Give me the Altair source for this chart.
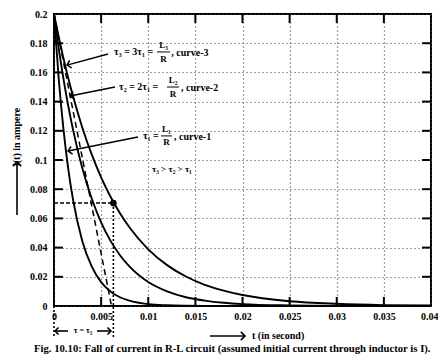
import altair as alt
import pandas as pd

# ---- data ----
t_values = [0, 0.0005, 0.001, 0.0015, 0.002, 0.003, 0.004, 0.005, 0.006, 0.007, 0.008,
            0.01, 0.012, 0.014, 0.016, 0.018, 0.02, 0.025, 0.03, 0.035, 0.04]
curve1 = [0.2, 0.1558, 0.1213, 0.0945, 0.0736, 0.0446, 0.0271, 0.0164, 0.0100, 0.0060, 0.0037,
          0.0013, 0.0005, 0.0002, 0.0001, 0, 0, 0, 0, 0, 0]
curve2 = [0.2, 0.1765, 0.1558, 0.1375, 0.1213, 0.0945, 0.0736, 0.0573, 0.0446, 0.0348, 0.0271,
          0.0164, 0.0100, 0.0060, 0.0037, 0.0022, 0.0013, 0.0004, 0.0001, 0, 0]
curve3 = [0.2, 0.1843, 0.1698, 0.1564, 0.1441, 0.1223, 0.1038, 0.0881, 0.0748, 0.0635, 0.0539,
          0.0388, 0.0280, 0.0202, 0.0145, 0.0105, 0.0075, 0.0033, 0.0015, 0.0006, 0.0003]
curve_names = ["curve-1", "curve-2", "curve-3"]

tangent_t = [0, 0.0061]
tangent_i = [0.2, 0]
tau3 = 0.0063
i_at_tau3 = 0.0705

x_ticks = [0, 0.005, 0.01, 0.015, 0.02, 0.025, 0.03, 0.035, 0.04]
y_ticks = [0, 0.02, 0.04, 0.06, 0.08, 0.1, 0.12, 0.14, 0.16, 0.18, 0.2]

caption = "Fig. 10.10: Fall of current in R-L circuit (assumed initial current through inductor is I)."

# ---- tables ----
rows = []
for name, vals in zip(curve_names, [curve1, curve2, curve3]):
    for t, v in zip(t_values, vals):
        rows.append({"t": t, "i": v, "curve": name})
curves_df = pd.DataFrame(rows)

FONT = "Liberation Serif"
xs = alt.Scale(domain=[0, 0.04], nice=False, zero=False)
ys = alt.Scale(domain=[0, 0.2], nice=False, zero=False)
x_axis = alt.Axis(values=x_ticks, format="~g", grid=True, ticks=False, domain=False,
                  labelPadding=5, labelFont=FONT, labelFontWeight="bold",
                  labelFontSize=10, labelColor="black", gridColor="#444",
                  gridDash=[1, 3], gridWidth=1.2, labelFlush=False, title=None,
                  labelAlign=alt.expr("datum.value >= 0.04 ? 'right' : 'center'"),
                  labelOffset=alt.expr("datum.value >= 0.04 ? 7 : 0"))
y_axis = alt.Axis(values=y_ticks, format="~g", grid=True, ticks=False, domain=False,
                  labelPadding=7, labelFont=FONT, labelFontWeight="bold",
                  labelFontSize=10, labelColor="black", gridColor="#444",
                  gridDash=[1, 3], gridWidth=1.2, labelFlush=False, title=None)


def X(f):
    return alt.X(f, type="quantitative", scale=xs, axis=x_axis, title=None)


def Y(f):
    return alt.Y(f, type="quantitative", scale=ys, axis=y_axis, title=None)


curves = alt.Chart(curves_df).mark_line(color="black", strokeWidth=1.9, interpolate="monotone").encode(
    x=X("t"), y=Y("i"), detail="curve:N")

# tangent dashed line
tan_df = pd.DataFrame({"t": [tangent_t[0]], "t2": [tangent_t[1]],
                       "i": [tangent_i[0]], "i2": [tangent_i[1]]})
tangent = alt.Chart(tan_df).mark_rule(color="black", strokeWidth=1.5, strokeDash=[6, 4]).encode(
    x=X("t"), x2="t2:Q", y=Y("i"), y2="i2:Q")

# construction lines at tau3
below = -0.0212
guide_df = pd.DataFrame([{"t": 0, "t2": tau3, "i": i_at_tau3}])
hline = alt.Chart(guide_df).mark_rule(color="black", strokeWidth=1.5, strokeDash=[4, 2]).encode(
    x=X("t"), x2="t2:Q", y=Y("i"))
vguide_df = pd.DataFrame([
    {"t": 0, "i": 0, "i2": below},
    {"t": tau3, "i": i_at_tau3, "i2": below},
])
vlines = alt.Chart(vguide_df).mark_rule(color="black", strokeWidth=1.6, strokeDash=[2, 2]).encode(
    x=X("t"), y=Y("i"), y2="i2:Q")
dot = alt.Chart(pd.DataFrame({"t": [tau3], "i": [i_at_tau3]})).mark_point(
    filled=True, color="black", size=45, opacity=1).encode(x=X("t"), y=Y("i"))

# inward major ticks on all four sides
tx = 0.00095
ty = 0.0062
tick_rows = []
for v in x_ticks[1:-1]:
    tick_rows.append({"x": v, "x2": v, "y": 0, "y2": ty})
    tick_rows.append({"x": v, "x2": v, "y": 0.2, "y2": 0.2 - ty})
for v in y_ticks[1:-1]:
    tick_rows.append({"x": 0, "x2": tx, "y": v, "y2": v})
    tick_rows.append({"x": 0.04, "x2": 0.04 - tx, "y": v, "y2": v})
ticks = alt.Chart(pd.DataFrame(tick_rows)).mark_rule(color="black", strokeWidth=2).encode(
    x=X("x"), x2="x2:Q", y=Y("y"), y2="y2:Q")

# annotation arrows (data coords)
arrow_df = pd.DataFrame([
    {"t": 0.00573, "i": 0.1726, "t2": 0.00138, "i2": 0.165, "a": 255},
    {"t": 0.00647, "i": 0.1500, "t2": 0.00170, "i2": 0.1438, "a": 259},
    {"t": 0.00891, "i": 0.1158, "t2": 0.00149, "i2": 0.1062, "a": 259},
])
arrow_lines = alt.Chart(arrow_df).mark_rule(color="black", strokeWidth=1.5).encode(
    x=X("t"), x2="t2:Q", y=Y("i"), y2="i2:Q")
arrow_heads = alt.Chart(arrow_df).mark_point(
    shape="M-1,1L0,0L1,1", filled=False, stroke="black", strokeWidth=1.5, size=60, opacity=1).encode(
    x=X("t2"), y=Y("i2"), angle=alt.Angle("a:Q", scale=None))

# fraction bars
bar_df = pd.DataFrame([
    {"t": 0.01093, "t2": 0.01231, "i": 0.1740},
    {"t": 0.01199, "t2": 0.01326, "i": 0.1500},
    {"t": 0.01135, "t2": 0.01252, "i": 0.1165},
])
frac_bars = alt.Chart(bar_df).mark_rule(color="black", strokeWidth=1).encode(
    x=X("t"), x2="t2:Q", y=Y("i"))

text_df = pd.DataFrame([
    {"s": "τ₃ = 3τ₁ =", "t": 0.00637, "i": 0.1740, "al": "left", "fs": 10},
    {"s": "L₃", "t": 0.01162, "i": 0.1786, "al": "center", "fs": 9},
    {"s": "R", "t": 0.01162, "i": 0.1695, "al": "center", "fs": 9},
    {"s": ", curve-3", "t": 0.01245, "i": 0.1733, "al": "left", "fs": 10},
    {"s": "τ₂ = 2τ₁ =", "t": 0.00690, "i": 0.1500, "al": "left", "fs": 10},
    {"s": "L₂", "t": 0.01263, "i": 0.1546, "al": "center", "fs": 9},
    {"s": "R", "t": 0.01263, "i": 0.1455, "al": "center", "fs": 9},
    {"s": ", curve-2", "t": 0.01347, "i": 0.1492, "al": "left", "fs": 10},
    {"s": "τ₁ =", "t": 0.00944, "i": 0.1165, "al": "left", "fs": 10},
    {"s": "L₁", "t": 0.01193, "i": 0.1211, "al": "center", "fs": 9},
    {"s": "R", "t": 0.01193, "i": 0.1120, "al": "center", "fs": 9},
    {"s": ", curve-1", "t": 0.01273, "i": 0.1158, "al": "left", "fs": 10},
    {"s": "τ₃ > τ₂ > τ₁", "t": 0.0104, "i": 0.0938, "al": "left", "fs": 9},
])
texts = []
for al in ["left", "center"]:
    for fs in [9, 10]:
        sub = text_df[(text_df.al == al) & (text_df.fs == fs)]
        if len(sub) == 0:
            continue
        texts.append(alt.Chart(sub).mark_text(
            align=al, baseline="middle", font=FONT, fontWeight="bold", fontSize=fs,
            color="black").encode(x=X("t"), y=Y("i"), text="s:N"))

# ---- outside-plot annotations (pixel coords relative to plot origin) ----
px_rules = pd.DataFrame([
    {"x": -37, "y": 201, "x2": -37, "y2": 149},   # y-title arrow
    {"x": 156, "y": 322, "x2": 190, "y2": 322},   # x-title arrow
    {"x": 14, "y": 317, "x2": 2, "y2": 317},      # tau left arrow
    {"x": 43, "y": 317, "x2": 56, "y2": 317},     # tau right arrow
])
px_rule_layer = alt.Chart(px_rules).mark_rule(color="black", strokeWidth=1.6).encode(
    x=alt.X("x:Q", scale=None, axis=None), x2="x2:Q",
    y=alt.Y("y:Q", scale=None, axis=None), y2="y2:Q")
px_heads = pd.DataFrame([
    {"x": -37, "y": 148, "a": 0, "sz": 70},
    {"x": 191, "y": 322, "a": 90, "sz": 70},
    {"x": 1, "y": 317, "a": 270, "sz": 50},
    {"x": 57, "y": 317, "a": 90, "sz": 50},
])
px_head_layer = alt.Chart(px_heads).mark_point(
    shape="M-1,1L0,0L1,1", filled=False, stroke="black", strokeWidth=1.6, opacity=1).encode(
    x=alt.X("x:Q", scale=None, axis=None), y=alt.Y("y:Q", scale=None, axis=None),
    angle=alt.Angle("a:Q", scale=None), size=alt.Size("sz:Q", scale=None, legend=None))

px_text_df = pd.DataFrame([
    {"s": "t (in second)", "x": 198, "y": 322, "al": "left", "fs": 10},
    {"s": "τ = τ₃", "x": 29, "y": 317, "al": "center", "fs": 8},
    {"s": caption, "x": -20, "y": 335, "al": "left", "fs": 10.7},
])
px_texts = []
for _, r in px_text_df.iterrows():
    px_texts.append(alt.Chart(pd.DataFrame([r])).mark_text(
        align=r["al"], baseline="middle", font=FONT, fontWeight="bold",
        fontSize=float(r["fs"]), color="black").encode(
        x=alt.X("x:Q", scale=None, axis=None), y=alt.Y("y:Q", scale=None, axis=None), text="s:N"))

ytitle = alt.Chart(pd.DataFrame({"s": ["i(t) in ampere"], "x": [-37], "y": [123]})).mark_text(
    angle=270, align="center", baseline="middle", font=FONT, fontWeight="bold",
    fontSize=10, color="black").encode(
    x=alt.X("x:Q", scale=None, axis=None), y=alt.Y("y:Q", scale=None, axis=None), text="s:N")

chart = alt.layer(
    curves, tangent, hline, vlines, dot, ticks, arrow_lines, arrow_heads, frac_bars,
    *texts, px_rule_layer, px_head_layer, ytitle, *px_texts
).properties(
    width=377, height=292,
    autosize=alt.AutoSizeParams(type="none"),
    padding={"left": 46, "top": 6, "right": 7, "bottom": 49},
    background="white",
).configure_view(stroke="black", strokeWidth=2)

chart.save("out.html", embed_options={"renderer": "svg", "actions": False})
